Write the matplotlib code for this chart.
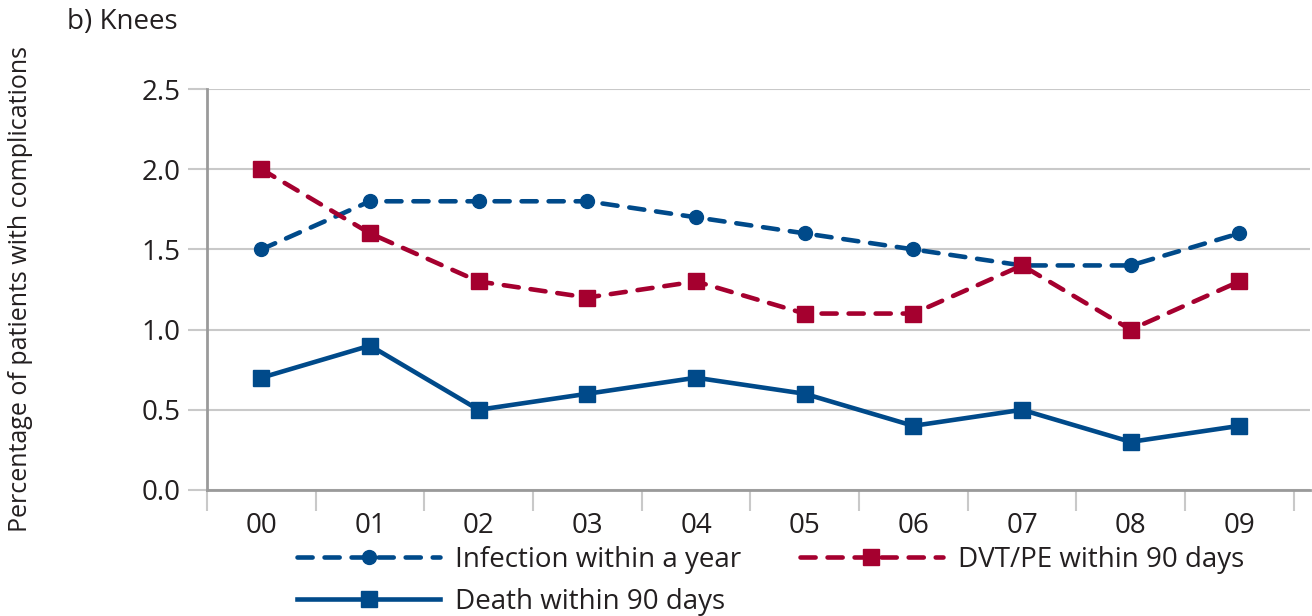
import numpy as np
import matplotlib.pyplot as plt

# data
years = ["00", "01", "02", "03", "04", "05", "06", "07", "08", "09"]
infection = [1.5, 1.8, 1.8, 1.8, 1.7, 1.6, 1.5, 1.4, 1.4, 1.6]
dvt_pe = [2.0, 1.6, 1.3, 1.2, 1.3, 1.1, 1.1, 1.4, 1.0, 1.3]
death = [0.7, 0.9, 0.5, 0.6, 0.7, 0.6, 0.4, 0.5, 0.3, 0.4]
yticks = [0.0, 0.5, 1.0, 1.5, 2.0, 2.5]

blue = "#004a8a"
red = "#a5002f"
grid_col = "#c9c9c9"
axis_col = "#9a9a9a"
text_col = "#231f20"

plt.rcParams['font.family'] = ['Open Sans', 'DejaVu Sans']
plt.rcParams['text.color'] = text_col

fig = plt.figure(figsize=(13.12, 6.16), dpi=100)
ax = fig.add_axes([207 / 1312, 1 - 490 / 616, 1103 / 1312, 401 / 616])

x = np.arange(len(years))

l_inf, = ax.plot(x, infection, color=blue, lw=3.3, ls=(0, (3.3, 2.6)),
                 dash_capstyle='round', marker='o', ms=10,
                 label="Infection within a year", zorder=3)
l_dvt, = ax.plot(x, dvt_pe, color=red, lw=3.3, ls=(0, (3.3, 2.6)),
                 dash_capstyle='round', marker='s', ms=11,
                 label="DVT/PE within 90 days", zorder=3)
l_death, = ax.plot(x, death, color=blue, lw=3.3, marker='s', ms=11,
                   label="Death within 90 days", zorder=3)

ax.set_ylim(0, 2.5)
ax.set_xlim(-0.5, 9.65)
ax.set_yticks(yticks)
ax.set_yticklabels([f"{v:.1f}" for v in yticks])
ax.set_xticks(x)
ax.set_xticklabels(years)
ax.set_xticks(np.arange(-0.5, 10, 1), minor=True)

ax.grid(axis='y', color=grid_col, lw=1.5, zorder=0)
ax.tick_params(axis='y', length=14, width=1.5, color=grid_col,
               labelsize=20, labelcolor=text_col, pad=5)
ax.tick_params(axis='x', which='major', length=0, labelsize=20,
               labelcolor=text_col, pad=16)
ax.tick_params(axis='x', which='minor', length=15, width=1.5, color=grid_col)

for s in ['top', 'right']:
    ax.spines[s].set_visible(False)
ax.spines['left'].set_color(axis_col)
ax.spines['left'].set_linewidth(2)
ax.spines['bottom'].set_color(axis_col)
ax.spines['bottom'].set_linewidth(2)

ax.set_ylabel("Percentage of patients with complications", fontsize=18,
              color=text_col)
ax.yaxis.set_label_coords(-(207 - 33) / 1103, 0.5)

fig.text(67 / 1312, 1 - 22 / 616, "b) Knees", fontsize=20, va='center',
         ha='left', color=text_col)

fig.legend(handles=[l_inf, l_death, l_dvt], ncol=2, frameon=False,
           fontsize=20, handlelength=5.15, handletextpad=0.55,
           columnspacing=2.1, labelspacing=0.5, borderpad=0,
           borderaxespad=0, loc='upper left',
           bbox_to_anchor=(297 / 1312, 1 - 546 / 616))

fig.savefig("out.png", dpi=100)
